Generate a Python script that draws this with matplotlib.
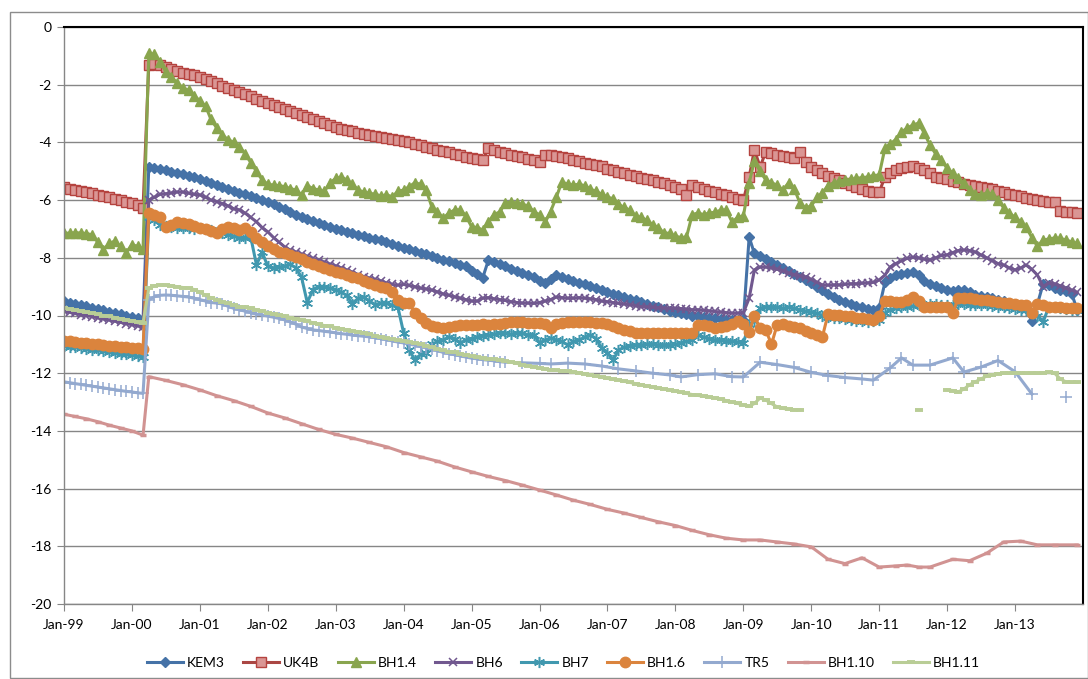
import numpy as np
import pandas as pd
import matplotlib
matplotlib.use("Agg")
import matplotlib.pyplot as plt
import matplotlib.dates as mdates
from matplotlib.patches import Rectangle

plt.rcParams['font.family'] = ['Lato', 'DejaVu Sans']

nan = np.nan
# monthly dates Jan-99 .. Dec-13
months = pd.date_range('1999-01-01', periods=180, freq='MS')

series_names = ['KEM3', 'UK4B', 'BH1.4', 'BH6', 'BH7', 'BH1.6', 'TR5', 'BH1.10', 'BH1.11']

kem3 = [
    -9.50, -9.55, -9.59, -9.64, -9.68, -9.73, -9.78, -9.82, -9.87, -9.91, -9.96, -10.00,
    -10.05, -10.10, -10.15, -4.85, -4.88, -4.92, -4.97, -5.02, -5.06, -5.11, -5.16, -5.21,
    -5.28, -5.33, -5.39, -5.46, -5.53, -5.60, -5.68, -5.74, -5.80, -5.86, -5.92, -5.98,
    -6.05, -6.14, -6.23, -6.32, -6.41, -6.50, -6.58, -6.65, -6.72, -6.80, -6.87, -6.94,
    -7.00, -7.05, -7.10, -7.15, -7.20, -7.25, -7.30, -7.35, -7.40, -7.46, -7.52, -7.58,
    -7.65, -7.70, -7.76, -7.82, -7.88, -7.94, -8.00, -8.06, -8.12, -8.18, -8.24, -8.30,
    -8.45, -8.55, -8.70, -8.08, -8.15, -8.22, -8.30, -8.38, -8.45, -8.52, -8.60, -8.68,
    -8.80, -8.87, -8.72, -8.60, -8.65, -8.72, -8.80, -8.86, -8.92, -8.98, -9.04, -9.10,
    -9.18, -9.24, -9.30, -9.36, -9.42, -9.48, -9.54, -9.60, -9.66, -9.72, -9.78, -9.84,
    -9.88, -9.92, -9.96, -10.00, -10.03, -10.05, -10.08, -10.10, -10.12, -10.14, -10.15, -10.15,
    -10.15, -7.28, -7.85, -7.95, -8.05, -8.15, -8.25, -8.35, -8.45, -8.55, -8.65, -8.77,
    -8.88, -9.00, -9.12, -9.24, -9.36, -9.47, -9.54, -9.60, -9.66, -9.72, -9.77, -9.80,
    -9.74, -8.85, -8.70, -8.60, -8.55, -8.53, -8.50, -8.60, -8.80, -8.90, -8.98, -9.03,
    -9.10, -9.15, -9.10, -9.12, -9.20, -9.30, -9.33, -9.36, -9.40, -9.45, -9.50, -9.56,
    -9.62, -9.68, -9.75, -10.20, -9.60, -8.90, -8.95, -9.05, -9.10, -9.15, -9.25, -9.80,
]

uk4b = [
    -5.55, -5.60, -5.64, -5.68, -5.72, -5.77, -5.81, -5.86, -5.90, -5.95, -6.00, -6.05,
    -6.10, -6.18, -6.28, -1.30, -1.28, -1.32, -1.38, -1.45, -1.52, -1.58, -1.62, -1.68,
    -1.73, -1.80, -1.88, -1.95, -2.03, -2.10, -2.18, -2.25, -2.33, -2.40, -2.48, -2.55,
    -2.63, -2.70, -2.78, -2.85, -2.92, -2.98, -3.05, -3.12, -3.20, -3.27, -3.34, -3.40,
    -3.47, -3.52, -3.57, -3.61, -3.66, -3.70, -3.74, -3.78, -3.82, -3.85, -3.88, -3.92,
    -3.95, -4.00, -4.05, -4.10, -4.15, -4.20, -4.25, -4.30, -4.35, -4.40, -4.45, -4.50,
    -4.55, -4.58, -4.62, -4.20, -4.26, -4.32, -4.37, -4.42, -4.47, -4.52, -4.57, -4.62,
    -4.67, -4.45, -4.45, -4.48, -4.52, -4.55, -4.60, -4.65, -4.70, -4.74, -4.78, -4.83,
    -4.93, -4.97, -5.02, -5.07, -5.12, -5.17, -5.22, -5.27, -5.32, -5.37, -5.42, -5.48,
    -5.55, -5.62, -5.82, -5.48, -5.55, -5.62, -5.68, -5.73, -5.78, -5.84, -5.90, -5.96,
    -6.00, -5.20, -4.26, -4.85, -4.33, -4.37, -4.44, -4.47, -4.50, -4.55, -4.33, -4.67,
    -4.85, -4.95, -5.05, -5.15, -5.25, -5.32, -5.40, -5.48, -5.55, -5.62, -5.68, -5.72,
    -5.72, -5.20, -5.05, -4.95, -4.89, -4.85, -4.83, -4.90, -4.96, -5.07, -5.20, -5.25,
    -5.28, -5.33, -5.38, -5.43, -5.48, -5.50, -5.53, -5.58, -5.63, -5.68, -5.72, -5.78,
    -5.82, -5.87, -5.92, -5.97, -6.00, -6.02, -6.05, -6.06, -6.38, -6.40, -6.42, -6.45,
]

bh1_4 = [
    -7.14, -7.15, -7.13, -7.14, -7.16, -7.20, -7.45, -7.72, -7.50, -7.42, -7.60, -7.82,
    -7.55, -7.60, -7.70, -0.90, -0.95, -1.20, -1.55, -1.75, -1.95, -2.10, -2.20, -2.40,
    -2.55, -2.75, -3.20, -3.50, -3.75, -3.90, -4.00, -4.15, -4.40, -4.70, -5.00, -5.30,
    -5.45, -5.48, -5.50, -5.53, -5.60, -5.65, -5.82, -5.50, -5.60, -5.65, -5.70, -5.40,
    -5.25, -5.20, -5.30, -5.45, -5.65, -5.72, -5.76, -5.80, -5.85, -5.82, -5.88, -5.70,
    -5.65, -5.53, -5.40, -5.45, -5.65, -6.24, -6.40, -6.62, -6.45, -6.34, -6.34, -6.55,
    -6.93, -6.95, -7.04, -6.75, -6.50, -6.41, -6.10, -6.07, -6.10, -6.15, -6.20, -6.41,
    -6.50, -6.76, -6.40, -5.90, -5.37, -5.45, -5.48, -5.45, -5.50, -5.62, -5.70, -5.80,
    -5.90, -5.95, -6.15, -6.25, -6.35, -6.55, -6.60, -6.70, -6.85, -6.95, -7.14, -7.15,
    -7.25, -7.30, -7.28, -6.50, -6.45, -6.50, -6.45, -6.42, -6.35, -6.34, -6.76, -6.60,
    -6.55, -5.40, -4.65, -5.00, -5.30, -5.40, -5.48, -5.65, -5.40, -5.60, -6.10, -6.27,
    -6.20, -5.90, -5.75, -5.50, -5.40, -5.35, -5.30, -5.28, -5.25, -5.22, -5.20, -5.15,
    -5.13, -4.20, -4.05, -3.90, -3.64, -3.50, -3.40, -3.33, -3.68, -4.09, -4.40, -4.60,
    -4.90, -5.06, -5.25, -5.40, -5.65, -5.80, -5.82, -5.76, -5.78, -6.00, -6.27, -6.45,
    -6.60, -6.75, -6.93, -7.30, -7.60, -7.38, -7.35, -7.31, -7.33, -7.38, -7.45, -7.50,
]

bh6 = [
    -9.85, -9.89, -9.93, -9.97, -10.00, -10.04, -10.08, -10.12, -10.16, -10.20, -10.24, -10.28,
    -10.32, -10.36, -10.40, -6.00, -5.90, -5.80, -5.78, -5.75, -5.72, -5.72, -5.76, -5.80,
    -5.82, -5.90, -6.00, -6.05, -6.12, -6.20, -6.30, -6.34, -6.45, -6.60, -6.75, -6.95,
    -7.10, -7.30, -7.45, -7.62, -7.73, -7.80, -7.87, -7.95, -8.02, -8.08, -8.15, -8.22,
    -8.28, -8.35, -8.42, -8.50, -8.58, -8.65, -8.70, -8.75, -8.80, -8.87, -8.92, -8.95,
    -8.92, -8.96, -9.00, -9.05, -9.08, -9.12, -9.18, -9.25, -9.30, -9.35, -9.40, -9.45,
    -9.50, -9.50, -9.40, -9.38, -9.42, -9.45, -9.48, -9.52, -9.55, -9.57, -9.57, -9.58,
    -9.55, -9.50, -9.45, -9.36, -9.38, -9.40, -9.40, -9.38, -9.40, -9.42, -9.45, -9.50,
    -9.52, -9.55, -9.58, -9.60, -9.63, -9.66, -9.70, -9.70, -9.72, -9.73, -9.74, -9.75,
    -9.75, -9.76, -9.78, -9.80, -9.80, -9.82, -9.84, -9.86, -9.88, -9.90, -9.92, -9.92,
    -9.90, -9.40, -8.42, -8.32, -8.32, -8.35, -8.40, -8.45, -8.53, -8.58, -8.62, -8.67,
    -8.75, -8.85, -8.94, -8.95, -8.94, -8.94, -8.92, -8.90, -8.90, -8.88, -8.87, -8.85,
    -8.77, -8.60, -8.32, -8.20, -8.10, -8.02, -7.98, -8.00, -8.05, -8.08, -8.00, -7.92,
    -7.90, -7.82, -7.75, -7.73, -7.75, -7.80, -7.90, -8.00, -8.10, -8.20, -8.25, -8.35,
    -8.42, -8.35, -8.25, -8.40, -8.60, -9.00, -8.87, -8.90, -8.97, -9.05, -9.12, -9.20,
]

bh7 = [
    -11.05, -11.08, -11.10, -11.13, -11.15, -11.18, -11.20, -11.23, -11.26, -11.29, -11.32, -11.35,
    -11.38, -11.41, -11.44, -6.60, -6.70, -6.85, -6.90, -6.92, -6.95, -6.95, -6.98, -7.00,
    -6.95, -7.00, -7.05, -7.10, -7.14, -7.20, -7.25, -7.30, -7.30, -7.28, -8.25, -7.80,
    -8.30, -8.35, -8.32, -8.30, -8.22, -8.35, -8.67, -9.55, -9.10, -9.00, -9.00, -9.05,
    -9.10, -9.20, -9.30, -9.60, -9.40, -9.36, -9.50, -9.62, -9.57, -9.55, -9.65, -9.70,
    -10.60, -11.20, -11.54, -11.35, -11.30, -11.00, -10.90, -10.85, -10.74, -10.80, -10.95, -10.85,
    -10.80, -10.74, -10.70, -10.68, -10.65, -10.60, -10.62, -10.65, -10.60, -10.62, -10.67, -10.67,
    -10.95, -10.85, -10.78, -10.85, -10.90, -11.02, -10.90, -10.85, -10.75, -10.67, -10.80, -11.13,
    -11.30, -11.54, -11.20, -11.10, -11.05, -11.02, -11.02, -11.00, -11.00, -11.02, -11.02, -11.02,
    -11.00, -10.95, -10.90, -10.85, -10.67, -10.75, -10.80, -10.85, -10.85, -10.88, -10.90, -10.92,
    -10.95, -10.30, -10.20, -9.75, -9.70, -9.70, -9.72, -9.75, -9.72, -9.75, -9.80, -9.85,
    -9.88, -9.92, -10.00, -10.05, -10.08, -10.10, -10.12, -10.15, -10.20, -10.20, -10.22, -10.20,
    -10.15, -9.92, -9.80, -9.75, -9.70, -9.70, -9.68, -9.65, -9.62, -9.60, -9.60, -9.62,
    -9.62, -9.62, -9.60, -9.60, -9.62, -9.62, -9.65, -9.65, -9.68, -9.70, -9.72, -9.75,
    -9.78, -9.80, -9.82, -9.90, -10.00, -10.22, -9.70, -9.72, -9.75, -9.78, -9.80, -9.82,
]

bh1_6 = [
    -10.88, -10.90, -10.92, -10.94, -10.96, -10.98, -11.00, -11.02, -11.04, -11.06, -11.08, -11.10,
    -11.12, -11.14, -11.16, -6.45, -6.50, -6.60, -6.93, -6.85, -6.76, -6.80, -6.82, -6.90,
    -6.98, -7.00, -7.08, -7.14, -7.00, -6.93, -6.98, -7.02, -6.97, -7.10, -7.30, -7.45,
    -7.60, -7.70, -7.80, -7.85, -7.90, -7.97, -8.05, -8.15, -8.22, -8.28, -8.35, -8.42,
    -8.48, -8.53, -8.60, -8.65, -8.70, -8.80, -8.87, -8.95, -9.00, -9.05, -9.20, -9.46,
    -9.55, -9.55, -9.92, -10.10, -10.26, -10.35, -10.40, -10.43, -10.40, -10.36, -10.33, -10.33,
    -10.33, -10.32, -10.30, -10.33, -10.30, -10.28, -10.25, -10.22, -10.22, -10.24, -10.26, -10.26,
    -10.26, -10.30, -10.43, -10.30, -10.26, -10.24, -10.22, -10.22, -10.22, -10.24, -10.25, -10.26,
    -10.30, -10.35, -10.42, -10.50, -10.55, -10.60, -10.60, -10.60, -10.60, -10.60, -10.60, -10.60,
    -10.60, -10.60, -10.60, -10.60, -10.33, -10.33, -10.38, -10.43, -10.40, -10.35, -10.28, -10.20,
    -10.30, -10.57, -10.00, -10.45, -10.50, -11.00, -10.33, -10.30, -10.35, -10.40, -10.45, -10.55,
    -10.60, -10.68, -10.76, -9.95, -9.97, -9.98, -10.00, -10.03, -10.07, -10.10, -10.13, -10.15,
    -10.00, -9.50, -9.50, -9.52, -9.53, -9.45, -9.36, -9.50, -9.70, -9.70, -9.70, -9.70,
    -9.72, -9.92, -9.39, -9.40, -9.40, -9.42, -9.45, -9.48, -9.50, -9.52, -9.55, -9.57,
    -9.60, -9.62, -9.65, -9.92, -9.60, -9.65, -9.70, -9.72, -9.72, -9.73, -9.74, -9.75,
]

bh1_11 = [
    -9.74, -9.78, -9.81, -9.85, -9.89, -9.92, -9.96, -10.00, -10.03, -10.07, -10.11, -10.15,
    -10.18, -10.22, -10.26, -9.05, -8.97, -8.94, -8.95, -8.97, -9.00, -9.03, -9.05, -9.10,
    -9.20, -9.30, -9.39, -9.45, -9.52, -9.58, -9.63, -9.70, -9.72, -9.75, -9.80, -9.85,
    -9.90, -9.95, -9.99, -10.03, -10.07, -10.11, -10.15, -10.20, -10.25, -10.30, -10.35, -10.38,
    -10.42, -10.46, -10.50, -10.53, -10.57, -10.60, -10.65, -10.70, -10.74, -10.78, -10.82, -10.85,
    -10.88, -10.92, -10.96, -11.00, -11.05, -11.10, -11.15, -11.20, -11.25, -11.28, -11.32, -11.36,
    -11.40, -11.43, -11.46, -11.50, -11.52, -11.54, -11.58, -11.62, -11.66, -11.70, -11.74, -11.78,
    -11.82, -11.86, -11.89, -11.90, -11.92, -11.94, -11.96, -11.98, -12.02, -12.06, -12.10, -12.14,
    -12.18, -12.21, -12.24, -12.28, -12.32, -12.36, -12.40, -12.44, -12.48, -12.52, -12.55, -12.58,
    -12.62, -12.66, -12.70, -12.74, -12.77, -12.80, -12.83, -12.86, -12.90, -12.95, -13.00, -13.05,
    -13.10, -13.15, -13.05, -12.86, -12.93, -13.05, -13.17, -13.22, -13.25, -13.27, -13.27, nan,
    nan, nan, nan, nan, nan, nan, nan, nan, nan, nan, nan, nan,
    nan, nan, nan, nan, nan, nan, nan, -13.28, nan, nan, nan, nan,
    -12.58, -12.60, -12.65, -12.55, -12.40, -12.30, -12.20, -12.10, -12.05, -12.02, -12.00, -12.00,
    -12.00, -12.00, -12.00, -12.00, -12.00, -11.98, -11.97, -12.00, -12.20, -12.30, -12.32, -12.32,
]

# TR5: month index (from Jan-99) and value; NaN marks the break before the last reading
tr5_month = list(range(0, 79)) + [81, 84, 86, 89, 92, 95, 98, 101, 104, 107, 109, 112, 115, 118,
                                  120, 123, 126, 129, 132, 135, 138, 141, 143, 146, 148, 150, 153,
                                  157, 159, 162, 165, 168, 171, 174, 177]
tr5_vals = [
    -12.30, -12.33, -12.36, -12.39, -12.42, -12.45, -12.48, -12.51, -12.54, -12.57, -12.60, -12.63,
    -12.65, -12.68, -12.70, -9.46, -9.35, -9.30, -9.29, -9.30, -9.32, -9.34, -9.36, -9.40,
    -9.45, -9.50, -9.55, -9.57, -9.60, -9.68, -9.75, -9.80, -9.85, -9.90, -9.95, -9.98,
    -10.02, -10.06, -10.10, -10.15, -10.22, -10.30, -10.40, -10.45, -10.50, -10.52, -10.55, -10.57,
    -10.60, -10.63, -10.65, -10.68, -10.70, -10.72, -10.74, -10.77, -10.80, -10.84, -10.88, -10.92,
    -10.95, -10.99, -11.03, -11.08, -11.12, -11.16, -11.22, -11.28, -11.32, -11.36, -11.40, -11.44,
    -11.48, -11.50, -11.53, -11.55, -11.57, -11.60, -11.62,
    -11.64, -11.66, -11.68, -11.65, -11.68, -11.75, -11.85, -11.92, -12.00, -12.06, -12.13, -12.05,
    -12.02, -12.12, -12.13, -11.62, -11.70, -11.80, -11.97, -12.08, -12.15, -12.20, -12.24, -11.82,
    -11.47, -11.72, -11.72, -11.47, -11.96, -11.79, -11.56, -11.95, -12.72, nan, -12.81,
]

bh1_10_month = [0, 2, 4, 6, 8, 10, 12, 14,
                15, 18, 21, 24, 27, 30, 33, 36, 39, 42, 45, 48, 51, 54, 57, 60, 63, 66, 69, 72,
                75, 78, 81, 84, 87, 90, 93, 96, 99, 102, 105, 108, 111, 114, 117, 120, 123, 126,
                129, 132,
                135, 138, 141, 144, 147, 149, 151, 153, 157, 160, 163, 166, 169, 172, 175, 179]
bh1_10_vals = [-13.42, -13.50, -13.58, -13.68, -13.80, -13.90, -14.00, -14.15,
               -12.12, -12.25, -12.40, -12.58, -12.78, -12.95, -13.15, -13.38, -13.55, -13.75,
               -13.95, -14.12, -14.25, -14.40, -14.55, -14.75, -14.90, -15.05, -15.25, -15.42,
               -15.58, -15.72, -15.88, -16.05, -16.22, -16.40, -16.55, -16.72, -16.85, -17.00,
               -17.15, -17.28, -17.45, -17.60, -17.72, -17.78, -17.78, -17.85, -17.92, -18.02,
               -18.45, -18.60, -18.40, -18.72, -18.68, -18.65, -18.72, -18.72, -18.45, -18.50,
               -18.24, -17.85, -17.82, -17.95, -17.95, -17.95]

yticks = list(range(-20, 1, 2))
xtick_years = list(range(1999, 2014))

# ---------------------------------------------------------------------------
W, H = 1088, 679
fig = plt.figure(figsize=(W / 100, H / 100), dpi=100)
fig.patch.set_facecolor('white')
fig.patches.append(Rectangle((10 / W, 1 / H), (W - 10) / W, (H - 12 - 1) / H,
                             transform=fig.transFigure, fill=False,
                             ec='#8c8c8c', lw=1.0))

ax = fig.add_axes([64 / W, 1 - 604 / H, (1083 - 64) / W, (604 - 27) / H])

lw = 2.2
data = [
    (months, kem3, dict(color='#4572A7', marker='D', ms=5.5, mfc='#4572A7', mec='#4572A7')),
    (months, uk4b, dict(color='#AA4643', marker='s', ms=7.5, mfc='#DA9694', mec='#B5433F', mew=1.0)),
    (months, bh1_4, dict(color='#89A54E', marker='^', ms=7.5, mfc='#89A54E', mec='#89A54E')),
    (months, bh6, dict(color='#71588F', marker='x', ms=6, mew=1.1)),
    (months, bh7, dict(color='#4198AF', marker=(6, 2, 0), ms=8, mew=1.1)),
    (months, bh1_6, dict(color='#DB843D', marker='o', ms=7.5, mfc='#DB843D', mec='#DB843D')),
    (months[tr5_month], tr5_vals, dict(color='#93A9CF', marker='+', ms=8, mew=1.1)),
    (months[bh1_10_month], bh1_10_vals, dict(color='#D19392', marker='_', ms=5, mew=2.5)),
    (months, bh1_11, dict(color='#B9CD96', marker='_', ms=6, mew=2.8)),
]
handles = []
for name, (x, y, st) in zip(series_names, data):
    h, = ax.plot(x, y, lw=lw, label=name, solid_joinstyle='round', **st)
    handles.append(h)

ax.set_ylim(-20, 0)
ax.set_yticks(yticks)
ax.set_yticklabels([str(t) for t in yticks])
ax.set_xlim(pd.Timestamp('1999-01-01'), pd.Timestamp('2014-01-01'))
ax.set_xticks([pd.Timestamp(f'{y}-01-01') for y in xtick_years])
ax.xaxis.set_major_formatter(mdates.DateFormatter('%b-%y'))

ax.yaxis.grid(True, color='#868686', lw=1.0)
ax.set_axisbelow(True)
for s in ['left', 'bottom']:
    ax.spines[s].set_color('#868686')
    ax.spines[s].set_linewidth(1.0)
for s in ['top', 'right']:
    ax.spines[s].set_color('black')
    ax.spines[s].set_linewidth(1.5)
ax.tick_params(axis='both', direction='out', length=5, color='#868686',
               labelsize=10, labelcolor='black', pad=4)
ax.tick_params(axis='x', pad=6)

fig.legend(handles, series_names, loc='center', bbox_to_anchor=(0.518, 1 - 663 / H),
           ncol=9, frameon=False, fontsize=10, handlelength=2.6, columnspacing=1.3,
           handletextpad=0.3)

fig.savefig('out.png', dpi=100)
